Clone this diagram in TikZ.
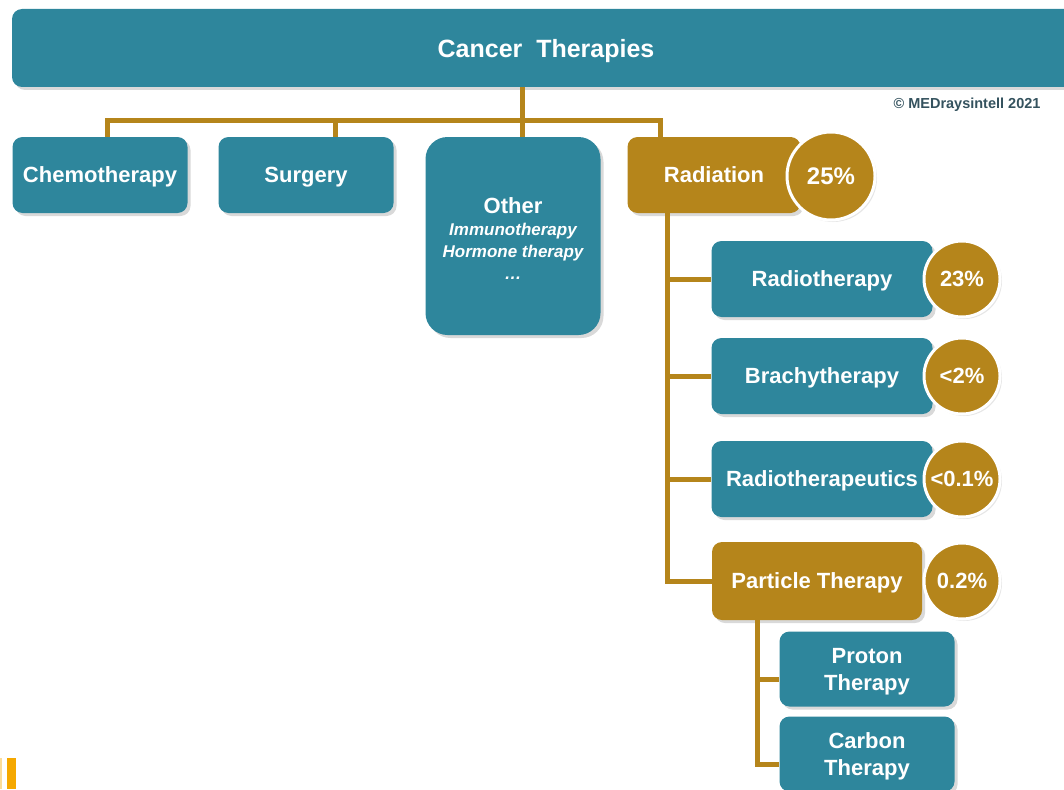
\documentclass[tikz,border=0pt]{standalone}
\usepackage{fontspec}
\setmainfont{Liberation Sans}
\usetikzlibrary{shadows}
\definecolor{medteal}{HTML}{2E869C}
\definecolor{medgold}{HTML}{B5851B}
\definecolor{medtext}{HTML}{34525E}
\definecolor{medorange}{HTML}{F5A800}

\begin{document}
\begin{tikzpicture}[x=1pt, y=-1pt,
	therapy/.style={rectangle, rounded corners=10pt, fill=medteal, text=white, font=\bfseries\fontsize{22}{27}\selectfont, minimum height=76pt, minimum width=175pt, inner sep=0pt, text depth=0pt, align=center, drop shadow={shadow xshift=3pt, shadow yshift=-3pt, opacity=0.3}},
	golden/.style={therapy, fill=medgold},
	share/.style={circle, fill=medgold, draw=white, line width=3pt, text=white, font=\bfseries\fontsize{22}{26}\selectfont, minimum size=76pt, inner sep=0pt, text depth=0pt, drop shadow={shadow xshift=2pt, shadow yshift=-2pt, opacity=0.2}},
	link/.style={draw=medgold, line width=5pt},
	]
	\useasboundingbox (0,0) rectangle (1064,789);
	
	\node[therapy, minimum width=1068pt, minimum height=78pt, font=\bfseries\fontsize{25}{30}\selectfont] at (546, 48) (cancer) {Cancer\ \ Therapies};
	\node[anchor=east, text=medtext, font=\bfseries\fontsize{14.5}{17}\selectfont] at (1044, 105) (copyright) {\textcopyright\ MEDraysintell 2021};
	
	\node[therapy] at (100, 175) (chemo) {Chemotherapy};
	\node[therapy] at (306, 175) (surgery) {Surgery};
	\node[therapy, rounded corners=22pt, minimum height=198pt] at (513, 236) (other) {\raisebox{32pt}{\begin{tabular}{@{}c@{}}Other\\[-5pt]
		{\fontsize{17}{21}\selectfont\itshape Immunotherapy}\\[-5pt]
		{\fontsize{17}{21}\selectfont\itshape Hormone therapy}\\[-5pt]
		{\fontsize{17}{21}\selectfont\itshape \dots}\end{tabular}}};
	\node[golden, minimum width=173pt] at (714, 175) (radiation) {Radiation};
	\node[share, minimum size=88pt, font=\bfseries\fontsize{24}{28}\selectfont] at (831, 176) (radshare) {25\%};
	
	\node[therapy, minimum width=221pt] at (822, 279) (radio) {Radiotherapy};
	\node[share] at (962, 279) (radioshare) {23\%};
	\node[therapy, minimum width=221pt] at (822, 376) (brachy) {Brachytherapy};
	\node[share] at (962, 376) (brachyshare) {<2\%};
	\node[therapy, minimum width=221pt] at (822, 479) (pharma) {Radiotherapeutics};
	\node[share] at (962, 479) (pharmashare) {<0.1\%};
	\node[golden, minimum width=210pt, minimum height=78pt] at (817, 581) (particle) {Particle Therapy};
	\node[share] at (962, 581) (particleshare) {0.2\%};
	
	\node[therapy, minimum height=75pt] at (867, 669) (proton) {Proton\\Therapy};
	\node[therapy, minimum height=75pt] at (867, 754) (carbon) {Carbon\\Therapy};
	
	% tree connectors
	\coordinate (hub) at (522, 120);
	\draw[link] (hub |- cancer.south) -- (hub);
	\draw[link] (hub) -| ([xshift=7pt]chemo.north);
	\draw[link] (hub) -| ([xshift=29pt]surgery.north);
	\draw[link] (hub) -- (hub |- other.north);
	\draw[link] (hub) -| ([xshift=-54pt]radiation.north);
	
	\coordinate (radspine) at ([xshift=-47pt]radiation.south);
	\draw[link] (radspine) |- (radio.west);
	\draw[link] (radspine) |- (brachy.west);
	\draw[link] (radspine) |- (pharma.west);
	\draw[link] (radspine) |- (particle.west);
	
	\coordinate (partspine) at ([xshift=-60pt]particle.south);
	\draw[link] (partspine) |- ([yshift=-10pt]proton.west);
	\draw[link] (partspine) |- ([yshift=-10pt]carbon.west);
	
	\fill[medorange] (7, 758) rectangle (16, 789);
	\fill[medorange!40] (0, 758) rectangle (1.5, 789);
\end{tikzpicture}
\end{document}
